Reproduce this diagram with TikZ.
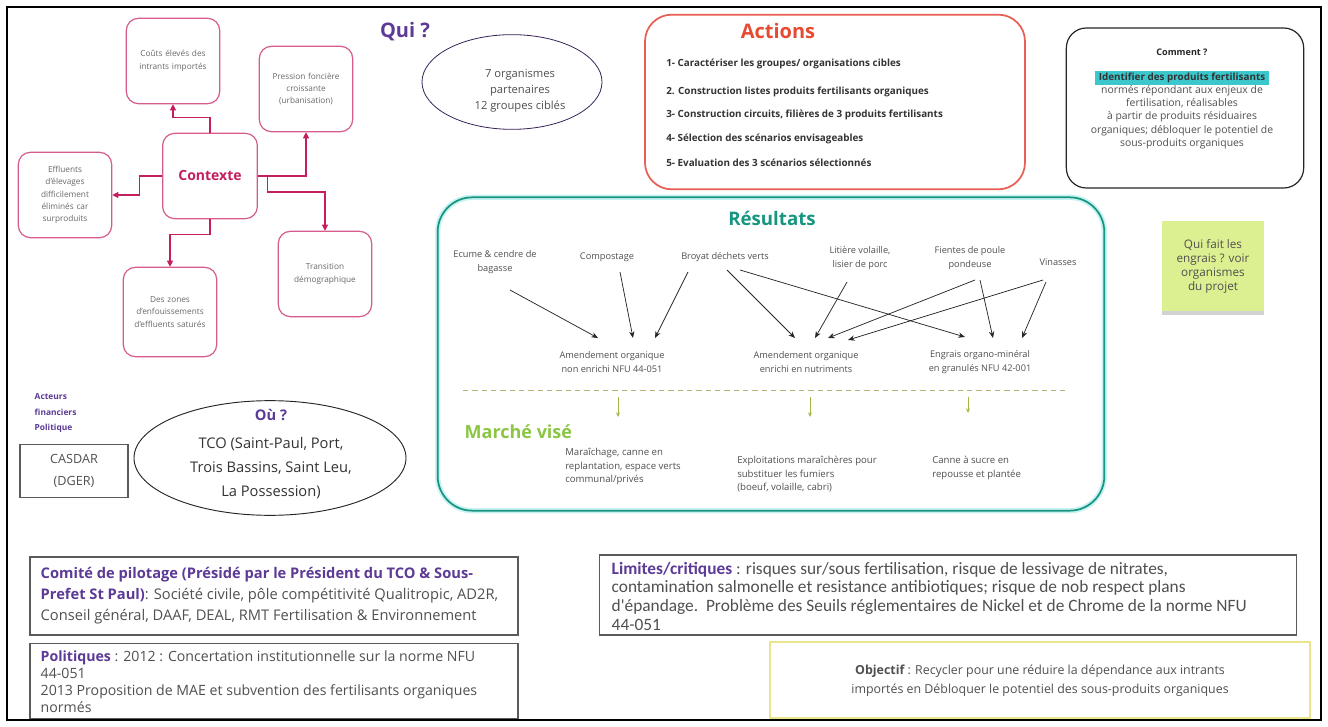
\documentclass[tikz,border=0pt]{standalone}
\usepackage{fontspec}
\setmainfont{Open Sans}
\newfontfamily\calfont{Carlito}
\usetikzlibrary{arrows.meta,calc,shapes.geometric,shadows}
\definecolor{txt}{RGB}{80,80,80}
\definecolor{ltxt}{RGB}{105,105,105}
\definecolor{ctxc}{RGB}{196,30,95}
\definecolor{ctxb}{RGB}{214,92,142}
\definecolor{purp}{RGB}{92,58,150}
\definecolor{actc}{RGB}{230,75,50}
\definecolor{actb}{RGB}{232,95,85}
\definecolor{tealc}{RGB}{22,150,128}
\definecolor{tealglow}{RGB}{200,242,242}
\definecolor{mgreen}{RGB}{138,198,68}
\definecolor{mkarrc}{RGB}{160,185,70}
\definecolor{dashc}{RGB}{180,178,120}
\definecolor{stickyc}{RGB}{220,240,145}
\definecolor{hlc}{RGB}{58,200,205}
\definecolor{objb}{RGB}{235,230,140}
\definecolor{boxg}{RGB}{90,90,90}
\newcommand{\fsz}[2]{\fontsize{#1}{#2}\selectfont}
\begin{document}
\begin{tikzpicture}[x=0.75pt,y=-0.75pt,
  ctxbox/.style={draw=ctxb,line width=0.9pt,rounded corners=9pt,minimum width=70pt,minimum height=64pt,text width=66pt,align=center,text=ltxt,font=\fsz{6.2}{9.3},inner sep=1pt},
  ctxarr/.style={draw=ctxc,line width=0.8pt,-{Triangle[length=4.5pt,width=4.5pt]}},
  actitem/.style={anchor=west,text=black!80,font=\bfseries\fsz{7.4}{9},inner sep=0pt},
  srcnode/.style={text=txt,align=center,font=\fsz{6.9}{10.5},inner sep=0pt},
  tgtnode/.style={text=txt,align=center,font=\fsz{6.9}{11},inner sep=0pt},
  resarr/.style={draw=black!85,line width=0.55pt,-{Stealth[length=5pt,width=4pt]}},
  mknode/.style={anchor=north west,text=txt,align=left,font=\fsz{7.2}{10.2},inner sep=0pt},
  mkarr/.style={draw=mkarrc,line width=0.6pt,-{Stealth[length=3.5pt,width=3pt]}},
  plainbox/.style={draw=boxg,line width=0.8pt,inner sep=0pt},
]
\useasboundingbox (0,0) rectangle (1328,727);
\fill[white] (0,0) rectangle (1328,727);
\draw[line width=1.5pt] (7,7) rectangle (1321,720);

% ---------- Contexte ----------
\node[ctxbox,minimum width=71pt,font=\bfseries\fsz{10.5}{12},text=ctxc] (ctx) at (210,176) {Contexte};
\node[ctxbox] (ctop) at (173,61) {Coûts élevés des\\intrants importés};
\node[ctxbox] (ctr) at (306,89) {Pression foncière\\croissante\\(urbanisation)};
\node[ctxbox] (cleft) at (65,195) {Effluents\\d'élevages\\difficilement\\éliminés car\\surproduits};
\node[ctxbox,minimum height=67pt] (cbot) at (170,312) {Des zones\\d'enfouissements\\d'effluents saturés};
\node[ctxbox] (cbr) at (325,274) {Transition\\démographique};
\draw[ctxarr] (ctx.north) -- ++(0,-15) -| (ctop.south);
\draw[ctxarr] (ctx.east) -| (ctr.south);
\coordinate (cb1) at ($(ctx.east)+(10,0)$);
\draw[ctxarr] (cb1) -- ++(0,16) -| (cbr.north);
\draw[ctxarr] (ctx.west) -- ++(-23,0) |- (cleft.east);
\draw[ctxarr] (ctx.south) -- ++(0,15) -| (cbot.north);

% ---------- Qui ----------
\node[font=\bfseries\fsz{15}{18},text=purp] (qui) at (405,32) {Qui ?};
\node[ellipse,draw=purp!60!black,line width=0.6pt,minimum width=135pt,minimum height=71pt] (quiell) at (512,82) {};
\node[align=center,text=txt,font=\fsz{8.4}{12}] (quitext) at (520,91) {7 organismes\\partenaires\\12 groupes ciblés};

% ---------- Actions ----------
\node[draw=actb,line width=1.3pt,rounded corners=20pt,minimum width=285pt,minimum height=131pt] (actbox) at (835,102) {};
\node[font=\bfseries\fsz{15}{18},text=actc] (acttitle) at (778,31) {Actions};
\node[actitem] (act1) at (666,64) {1- Caractériser les groupes/ organisations cibles};
\node[actitem] (act2) at (666,92) {2. Construction listes produits fertilisants organiques};
\node[actitem] (act3) at (666,115) {3- Construction circuits, filières de 3 produits fertilisants};
\node[actitem] (act4) at (666,139) {4- Sélection des scénarios envisageables};
\node[actitem] (act5) at (666,163) {5- Evaluation des 3 scénarios sélectionnés};

% ---------- Comment ----------
\node[draw=black!85,line width=0.9pt,rounded corners=15pt,minimum width=178pt,minimum height=120pt] (combox) at (1185,108) {};
\node[font=\bfseries\fsz{6.8}{8},text=black!85] (comtitle) at (1182,52) {Comment ?};
\node[fill=hlc,inner xsep=3pt,inner ysep=1.5pt,font=\bfseries\fsz{7.4}{8},text=black!80] (comhl) at (1182,78) {Identifier des produits fertilisants};
\node[align=center,text=txt,font=\fsz{7.8}{10}] (comtext) at (1182,117) {normés répondant aux enjeux de\\fertilisation, réalisables\\à partir de produits résiduaires\\organiques; débloquer le potentiel de\\sous-produits organiques};

% ---------- Resultats ----------
\node[draw=tealc,line width=1.3pt,rounded corners=26pt,minimum width=500pt,minimum height=235pt,preaction={draw=tealglow,line width=4pt}] (resbox) at (771,354) {};
\node[font=\bfseries\fsz{14}{16},text=tealc] (restitle) at (772,218) {Résultats};
\node[srcnode] (ecume) at (495,262) {Ecume \& cendre de\\bagasse};
\node[srcnode] (compost) at (607,257) {Compostage};
\node[srcnode] (broyat) at (725,257) {Broyat déchets verts};
\node[srcnode] (litiere) at (860,258) {Litière volaille,\\lisier de porc};
\node[srcnode] (fientes) at (970,258) {Fientes de poule\\pondeuse};
\node[srcnode] (vinasses) at (1058,262) {Vinasses};
\node[tgtnode] (a1) at (612,362) {Amendement organique\\non enrichi NFU 44-051};
\node[tgtnode] (a2) at (806,362) {Amendement organique\\enrichi en nutriments};
\node[tgtnode] (a3) at (980,362) {Engrais organo-minéral\\en granulés NFU 42-001};
\draw[resarr] ($(ecume.center)+(15,28)$) -- ($(a1.center)+(-14,-24)$);
\draw[resarr] ($(compost.center)+(13,15)$) -- ($(a1.center)+(21,-24)$);
\draw[resarr] ($(broyat.center)+(-37,15)$) -- ($(a1.center)+(43,-24)$);
\draw[resarr] ($(broyat.center)+(2,13)$) -- ($(a2.center)+(-11,-24)$);
\draw[resarr] ($(broyat.center)+(15,13)$) -- ($(a3.center)+(-15,-25)$);
\draw[resarr] ($(litiere.center)+(-13,24)$) -- ($(a2.center)+(9,-24)$);
\draw[resarr] ($(fientes.center)+(5,22)$) -- ($(a2.center)+(22,-24)$);
\draw[resarr] ($(fientes.center)+(10,22)$) -- ($(a3.center)+(13,-24)$);
\draw[resarr] ($(vinasses.center)+(-15,18)$) -- ($(a2.center)+(42,-22)$);
\draw[resarr] ($(vinasses.center)+(-12,20)$) -- ($(a3.center)+(42,-24)$);

% ---------- Marche vise ----------
\coordinate (dl) at (463,390);
\coordinate (dr) at (1065,390);
\draw[draw=dashc,line width=0.7pt,dash pattern=on 4pt off 3pt] (dl) -- (dr);
\node[anchor=west,font=\bfseries\fsz{13.5}{16},text=mgreen] (marche) at (460,432) {Marché visé};
\node[mknode] (m1) at (565,448) {Maraîchage, canne en\\replantation, espace verts\\communal/privés};
\node[mknode] (m2) at (737,456) {Exploitations maraîchères pour\\substituer les fumiers\\(boeuf, volaille, cabri)};
\node[mknode] (m3) at (932,456) {Canne à sucre en\\repousse et plantée};
\coordinate (d1) at (618,397);
\coordinate (d2) at (810,397);
\coordinate (d3) at (968,397);
\draw[mkarr] (d1) -- ++(0,20);
\draw[mkarr] (d2) -- ++(0,20);
\draw[mkarr] (d3) -- ++(0,16);

% ---------- Sticky note ----------
\node[fill=stickyc,minimum width=76pt,minimum height=68pt,align=center,text=txt,font=\fsz{8.8}{10.5},drop shadow={shadow xshift=0pt,shadow yshift=-2.5pt,opacity=0.35}] (note) at (1213,266) {Qui fait les\\engrais ? voir\\organismes\\du projet};

% ---------- Left middle ----------
\node[anchor=west,align=left,font=\bfseries\fsz{6.3}{11.3},text=purp] (acteurs) at (30,413) {Acteurs\\financiers\\Politique};
\node[plainbox,minimum width=81pt,minimum height=40pt,align=center,text=txt,font=\fsz{9.5}{16}] (casdar) at (74,471) {CASDAR\\(DGER)};
\node[ellipse,draw=black!85,line width=0.7pt,minimum width=204pt,minimum height=86pt] (ou) at (270,458) {};
\node[align=center,text=black!80,font=\fsz{11}{18}] (outext) at (271,454) {{\bfseries\color{purp}Où ?}\\[3pt]TCO (Saint-Paul, Port,\\Trois Bassins, Saint Leu,\\La Possession)};

% ---------- Bottom boxes ----------
\node[plainbox,minimum width=366pt,minimum height=58.5pt] (comite) at (274,596) {};
\node[anchor=west,align=left,text=txt,font=\fsz{11}{15.75}] (comitetext) at (36,596) {{\bfseries\color{purp}Comité de pilotage (Présidé par le Président du TCO \& Sous-}\\{\bfseries\color{purp}Prefet St Paul)}: Société civile, pôle compétitivité Qualitropic, AD2R,\\Conseil général, DAAF, DEAL, RMT Fertilisation \& Environnement};
\node[plainbox,minimum width=366pt,minimum height=56pt] (polit) at (274,681) {};
\node[anchor=west,align=left,text=txt,font=\fsz{10.6}{12.8}] (polittext) at (36,682) {{\bfseries\color{purp}Politiques} : 2012 : Concertation institutionnelle sur la norme NFU\\44-051\\2013 Proposition de MAE et subvention des fertilisants organiques\\normés};
\node[plainbox,minimum width=523pt,minimum height=60pt] (limites) at (948,595) {};
\node[anchor=west,align=left,text=txt,font=\calfont\fsz{13}{14}] (limtext) at (607,596) {{\bfseries\color{purp}Limites/critiques} : risques sur/sous fertilisation, risque de lessivage de nitrates,\\contamination salmonelle et resistance antibiotiques; risque de nob respect plans\\d'épandage.\ \ Problème des Seuils réglementaires de Nickel et de Chrome de la norme NFU\\44-051};
\node[draw=objb,line width=1.2pt,minimum width=405pt,minimum height=57pt] (objbox) at (1040,680) {};
\node[align=center,text=txt,font=\fsz{9.3}{14}] (objtext) at (1040,681) {{\bfseries Objectif} : Recycler pour une réduire la dépendance aux intrants\\importés en Débloquer le potentiel des sous-produits organiques};
\end{tikzpicture}
\end{document}
